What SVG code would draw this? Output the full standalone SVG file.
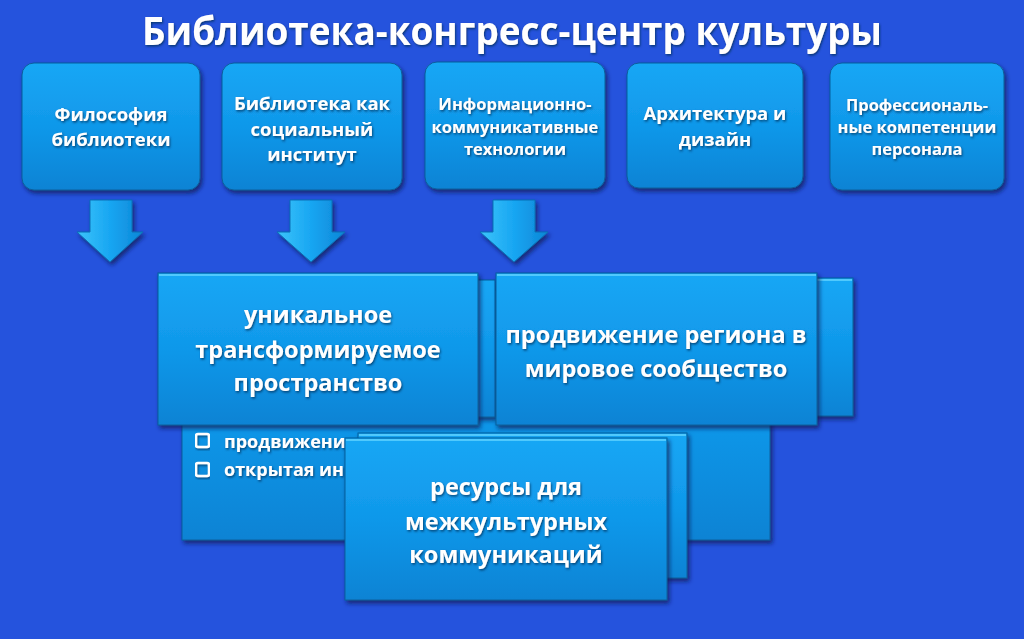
<svg xmlns="http://www.w3.org/2000/svg" width="1024" height="639" viewBox="0 0 1024 639">
  <defs>
    <linearGradient id="boxGrad" x1="0" y1="0" x2="0" y2="1">
      <stop offset="0" stop-color="#17a7f5"/>
      <stop offset="0.5" stop-color="#1098ea"/>
      <stop offset="1" stop-color="#0a83d4"/>
    </linearGradient>
    <linearGradient id="arrowGrad" x1="0" y1="0" x2="1" y2="0">
      <stop offset="0" stop-color="#3cc4fa"/>
      <stop offset="0.5" stop-color="#18a6f2"/>
      <stop offset="1" stop-color="#0c86d6"/>
    </linearGradient>
    <filter id="shadow" x="-10%" y="-10%" width="125%" height="130%">
      <feDropShadow dx="2" dy="3" stdDeviation="2" flood-color="#0b1d55" flood-opacity="0.75"/>
    </filter>
    <filter id="tshadow" x="-5%" y="-20%" width="110%" height="150%">
      <feDropShadow dx="1" dy="1.5" stdDeviation="1" flood-color="#05305a" flood-opacity="0.8"/>
    </filter>
    <style>
      .box { fill: url(#boxGrad); stroke: #0b5e9c; stroke-width: 1; filter: url(#shadow); }
      .hl { fill: none; stroke: #5fd2ff; stroke-width: 2; opacity: 0.8; }
      .arrow { fill: url(#arrowGrad); stroke: #0b6fb5; stroke-width: 1; filter: url(#shadow); }
      .t { font-family: "Open Sans", "Liberation Sans", sans-serif; font-weight: bold; fill: #ffffff; text-anchor: middle; filter: url(#tshadow); }
      .top { font-size: 18.5px; }
      .small { font-size: 16.5px; }
      .mid { font-size: 23.5px; }
      .title { font-size: 40px; }
      .bul { font-family: "Open Sans", "Liberation Sans", sans-serif; font-weight: bold; fill: #ffffff; font-size: 18px; filter: url(#tshadow); }
      .chk { fill: none; stroke: #ffffff; stroke-width: 2.5; filter: url(#tshadow); }
    </style>
  </defs>

  <rect x="0" y="0" width="1024" height="639" fill="#2553dd"/>

  <text x="512" y="45" class="t title" textLength="740" lengthAdjust="spacingAndGlyphs">Библиотека-конгресс-центр культуры</text>

  <g id="node-philosophy">
    <rect x="22" y="63" width="178" height="127" rx="12" class="box"/>
    <text x="111" y="121" class="t top">Философия</text>
    <text x="111" y="146" class="t top">библиотеки</text>
  </g>
  <g id="node-social">
    <rect x="222" y="63" width="180" height="127" rx="12" class="box"/>
    <text x="312" y="110" class="t top">Библиотека как</text>
    <text x="312" y="136" class="t top">социальный</text>
    <text x="312" y="161" class="t top">институт</text>
  </g>
  <g id="node-ict">
    <rect x="425" y="62" width="180" height="127" rx="12" class="box"/>
    <text x="515" y="110" class="t small">Информационно-</text>
    <text x="515" y="133" class="t small">коммуникативные</text>
    <text x="515" y="155" class="t small">технологии</text>
  </g>
  <g id="node-arch">
    <rect x="627" y="63" width="176" height="125" rx="12" class="box"/>
    <text x="715" y="120" class="t top">Архитектура и</text>
    <text x="715" y="146" class="t top">дизайн</text>
  </g>
  <g id="node-staff">
    <rect x="830" y="63" width="174" height="127" rx="12" class="box"/>
    <text x="917" y="111" class="t small">Профессиональ-</text>
    <text x="917" y="133" class="t small">ные компетенции</text>
    <text x="917" y="155" class="t small">персонала</text>
  </g>

  <g id="connectors">
    <polygon class="arrow" points="90,200 132,200 132,232 143,232 110,262 77,232 90,232"/>
    <polygon class="arrow" points="290,200 332,200 332,232 345,232 311,262 277,232 290,232"/>
    <polygon class="arrow" points="493,200 535,200 535,232 548,232 514,262 480,232 493,232"/>
  </g>

  <g id="node-bullets">
    <rect x="182" y="290" width="588" height="250" class="box"/>
    <rect x="196" y="434" width="13" height="13" rx="2" class="chk"/>
    <rect x="196" y="463" width="13" height="13" rx="2" class="chk"/>
    <text x="224" y="448" class="bul">продвижени</text>
    <text x="224" y="476" class="bul">открытая ин</text>
    <text x="667" y="500" class="bul">м</text>
  </g>

  <g id="node-unique">
    <rect x="178" y="280" width="317" height="137" class="box"/>
    <rect x="158" y="273" width="320" height="152" class="box"/>
    <line x1="159" y1="275" x2="477" y2="275" class="hl"/>
    <text x="318" y="323" class="t mid">уникальное</text>
    <text x="318" y="358" class="t mid">трансформируемое</text>
    <text x="318" y="391" class="t mid">пространство</text>
  </g>

  <g id="node-region">
    <rect x="516" y="278" width="337" height="138" class="box"/>
    <line x1="517" y1="280" x2="852" y2="280" class="hl"/>
    <rect x="496" y="273" width="321" height="152" class="box"/>
    <line x1="497" y1="275" x2="816" y2="275" class="hl"/>
    <text x="656" y="343" class="t mid">продвижение региона в</text>
    <text x="656" y="377" class="t mid">мировое сообщество</text>
  </g>

  <g id="node-resources">
    <rect x="358" y="433" width="329" height="145" class="box"/>
    <line x1="359" y1="435" x2="686" y2="435" class="hl"/>
    <rect x="345" y="438" width="322" height="162" class="box"/>
    <line x1="346" y1="440" x2="666" y2="440" class="hl"/>
    <text x="506" y="495" class="t mid">ресурсы для</text>
    <text x="506" y="530" class="t mid">межкультурных</text>
    <text x="506" y="563" class="t mid">коммуникаций</text>
  </g>
</svg>
